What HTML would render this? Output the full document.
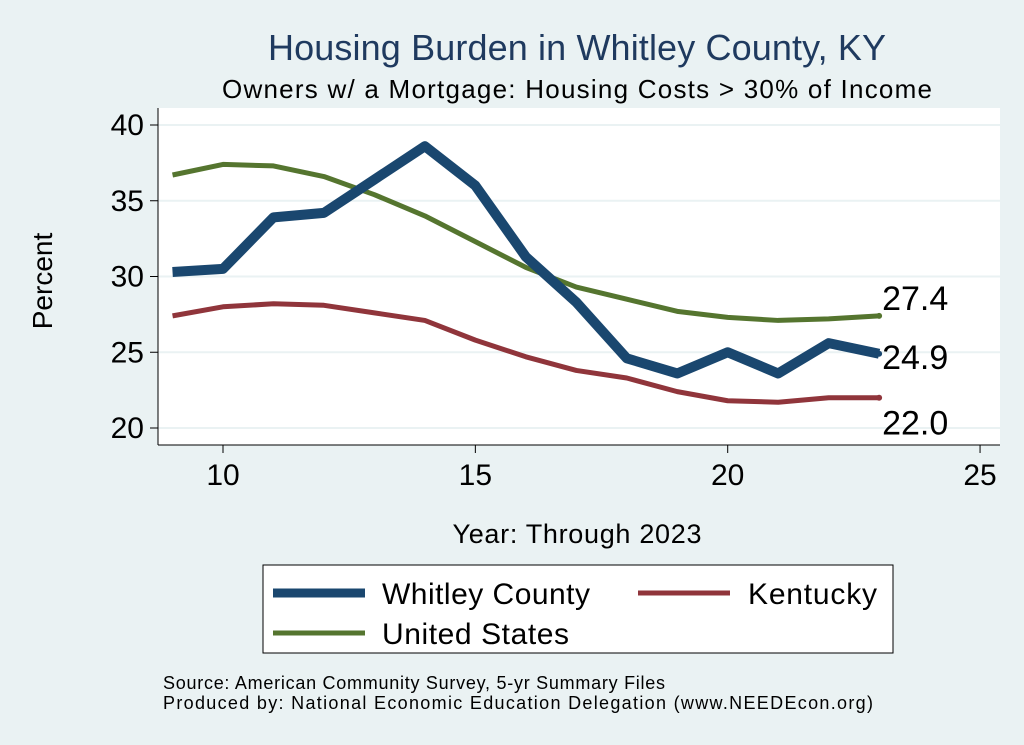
<!DOCTYPE html>
<html><head><meta charset="utf-8"><style>
body{margin:0;background:#eaf2f3;}
svg{display:block;font-family:"Liberation Sans",sans-serif;}
</style></head><body>
<svg id="chart" width="1024" height="745" viewBox="0 0 1024 745">
<rect x="0" y="0" width="1024" height="745" fill="#eaf2f3"/>
<rect x="158" y="108" width="842" height="337" fill="#ffffff"/>
<text x="577" y="60" font-size="36" fill="#1f3a5f" text-anchor="middle" textLength="618">Housing Burden in Whitley County, KY</text>
<text x="577" y="98" font-size="26" fill="#000" text-anchor="middle" textLength="710">Owners w/ a Mortgage: Housing Costs &gt; 30% of Income</text>
<g id="grid"></g>
<g id="axes"></g>
<g id="series"></g>
<text x="52" y="281" font-size="28" text-anchor="middle" transform="rotate(-90 52 281)">Percent</text>
<text x="577" y="543" font-size="27" text-anchor="middle" textLength="249">Year: Through 2023</text>
<g>
<rect x="263" y="565" width="630" height="88" fill="#fff" stroke="#000" stroke-width="1"/>
<g><line x1="273" y1="593" x2="365" y2="593" stroke="#1a476f" stroke-width="9"/><text x="382" y="604" font-size="30" textLength="208">Whitley County</text></g>
<g><line x1="638" y1="593" x2="730" y2="593" stroke="#90353b" stroke-width="5"/><text x="748" y="604" font-size="30" textLength="129">Kentucky</text></g>
<g><line x1="273" y1="633" x2="365" y2="633" stroke="#55752f" stroke-width="5"/><text x="382" y="644" font-size="30" textLength="187">United States</text></g>
</g>
<text x="163" y="689" font-size="18" textLength="502">Source: American Community Survey, 5-yr Summary Files</text>
<text x="163" y="709" font-size="18" textLength="710">Produced by: National Economic Education Delegation (www.NEEDEcon.org)</text>
</svg>
<script>
const years=[9,10,11,12,13,14,15,16,17,18,19,20,21,22,23];
const whitley=[30.3,30.5,33.9,34.2,36.4,38.6,36.0,31.3,28.3,24.6,23.6,25.0,23.6,25.6,24.9];
const kentucky=[27.4,28.0,28.2,28.1,27.6,27.1,25.8,24.7,23.8,23.3,22.4,21.8,21.7,22.0,22.0];
const unitedStates=[36.7,37.4,37.3,36.6,35.4,34.0,32.3,30.6,29.3,28.5,27.7,27.3,27.1,27.2,27.4];
const yTicks=[20,25,30,35,40];
const xTicks=[10,15,20,25];
const NS="http://www.w3.org/2000/svg";
function xs(v){return 223+(v-10)*50.47;}
function ys(v){return 428-(v-20)*15.15;}
function mk(tag,attrs,parent){const e=document.createElementNS(NS,tag);for(const k in attrs)e.setAttribute(k,attrs[k]);parent.appendChild(e);return e;}
const grid=document.getElementById('grid'),axes=document.getElementById('axes'),ser=document.getElementById('series');
yTicks.forEach(t=>{
 const g=mk('line',{x1:158,x2:1000,y1:ys(t),y2:ys(t),stroke:'#eaf2f3','stroke-width':2},grid);
 
 
 const tk=mk('line',{x1:150,x2:158,y1:ys(t),y2:ys(t),stroke:'#000'},axes);
 
 
 const l=mk('text',{x:144,y:ys(t)+10,'font-size':30,'text-anchor':'end'},axes);l.textContent=t;
 
 
});
xTicks.forEach(t=>{
 const tk=mk('line',{x1:xs(t),x2:xs(t),y1:445,y2:453,stroke:'#000'},axes);
 
 
 const l=mk('text',{x:xs(t),y:485,'font-size':30,'text-anchor':'middle'},axes);l.textContent=t;
 
 
});
const ya=mk('line',{x1:158,x2:158,y1:108,y2:445,stroke:'#000'},axes);


const xa=mk('line',{x1:158,x2:1000,y1:445,y2:445,stroke:'#000'},axes);


function line(vals,color,w,name){
 const p=mk('polyline',{points:vals.map((v,i)=>xs(years[i])+','+ys(v)).join(' '),fill:'none',stroke:color,'stroke-width':w,'stroke-linejoin':'round'},ser);
 
 
 const last=vals[vals.length-1];
 const d=mk('circle',{cx:xs(years[years.length-1]),cy:ys(last),r:3,fill:color},ser);
 
 
}
line(unitedStates,'#55752f',5,'line-united-states');
line(kentucky,'#90353b',5,'line-kentucky');
line(whitley,'#1a476f',10,'line-whitley-county');
const lx=xs(years[years.length-1])+3;
[[unitedStates,-6,'label-us-last'],[whitley,15,'label-whitley-last'],[kentucky,37,'label-kentucky-last']].forEach(([arr,dy,nm])=>{
 const v=arr[arr.length-1];
 const t=mk('text',{x:lx,y:ys(v)+dy,'font-size':34},ser);t.textContent=v.toFixed(1);
 
 
});
</script>
</body></html>
